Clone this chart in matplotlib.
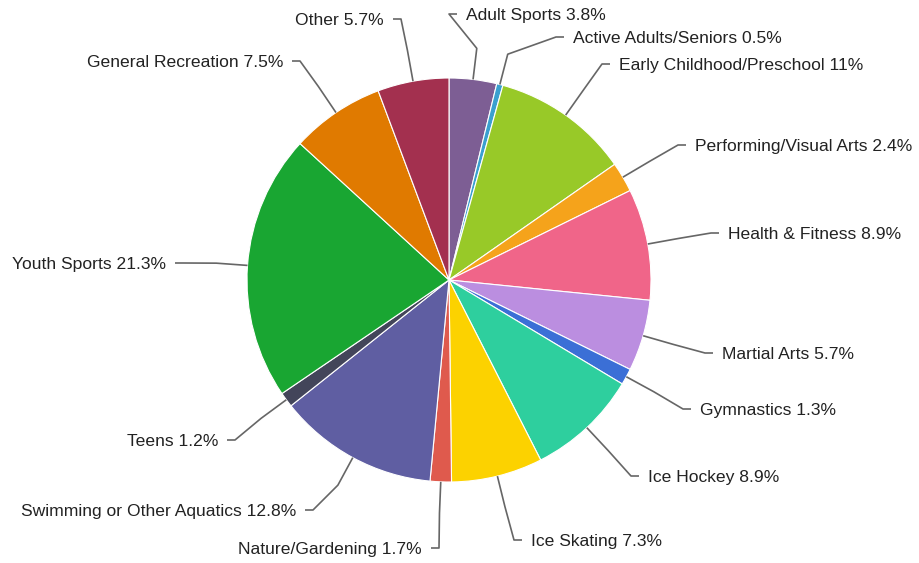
import numpy as np
import matplotlib.pyplot as plt

# data
labels = ['Adult Sports', 'Active Adults/Seniors', 'Early Childhood/Preschool',
          'Performing/Visual Arts', 'Health & Fitness', 'Martial Arts', 'Gymnastics',
          'Ice Hockey', 'Ice Skating', 'Nature/Gardening', 'Swimming or Other Aquatics',
          'Teens', 'Youth Sports', 'General Recreation', 'Other']
pct_text = ['3.8', '0.5', '11', '2.4', '8.9', '5.7', '1.3', '8.9', '7.3', '1.7',
            '12.8', '1.2', '21.3', '7.5', '5.7']
values = [float(v) for v in pct_text]
colors = ['#7d5e94', '#3aa0cf', '#98c928', '#f5a31b', '#f06589', '#bb8ee0', '#3b6fd6',
          '#2ecf9e', '#fcd200', '#df5a4d', '#5f5ea2', '#43455a', '#19a632', '#e07a00',
          '#a3304f']

# label layout in pixels (x = text start for right side, text end for left side)
label_px = [(466, 14), (573, 37), (619, 64), (695, 145), (728, 233), (722, 353),
            (700, 409), (648, 476), (531, 540), (422, 548), (296, 510), (218, 440),
            (166, 263), (283, 61), (384, 19)]

W, H = 919, 563
CX, CY, R = 449, 280, 202


def to_data(px, py):
    return (px - CX) / R, (CY - py) / R


plt.rcParams['font.family'] = ['Liberation Sans', 'DejaVu Sans']
fig = plt.figure(figsize=(W / 100, H / 100), dpi=100)
ax = fig.add_axes([0, 0, 1, 1])
ax.pie(values, colors=colors, startangle=90, counterclock=False, radius=1,
       wedgeprops=dict(edgecolor='white', linewidth=0.8))
ax.set_xlim(to_data(0, 0)[0], to_data(W, 0)[0])
ax.set_ylim(to_data(0, H)[1], to_data(0, 0)[1])
ax.set_aspect('auto')
ax.axis('off')

total = sum(values)
cum = np.cumsum([0] + values)
for i, name in enumerate(labels):
    mid = (cum[i] + cum[i + 1]) / 2 / total * 2 * np.pi
    sx, sy = np.sin(mid), np.cos(mid)
    p0 = (sx * 1.0, sy * 1.0)
    p1 = (sx * 1.155, sy * 1.155)
    tx, ty = to_data(*label_px[i])
    right = label_px[i][0] > CX or name == 'Adult Sports'
    d = 1 if right else -1
    p2 = (tx - d * 17 / R, ty)
    p3 = (tx - d * 9 / R, ty)
    ax.plot([p0[0], p1[0], p2[0], p3[0]], [p0[1], p1[1], p2[1], p3[1]],
            color='#666666', lw=1.2, solid_capstyle='butt')
    ax.text(tx, ty - 1.5 / R, f'{name} {pct_text[i]}%', ha='left' if right else 'right',
            va='center', fontsize=12.6, color='#222222')

fig.savefig('out.png', dpi=100)
